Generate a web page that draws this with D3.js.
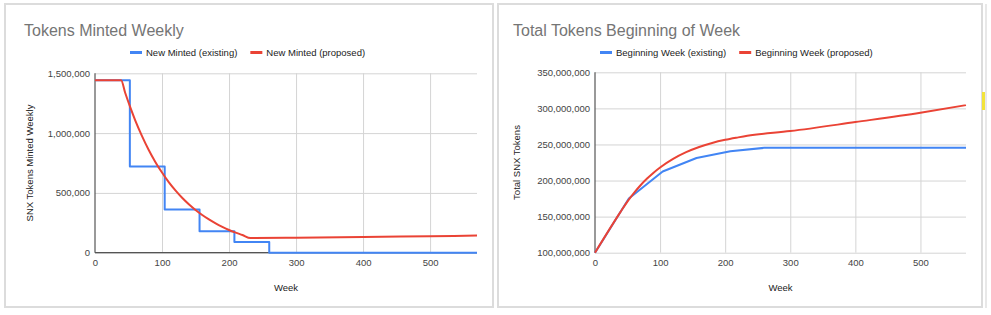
<!DOCTYPE html>
<html><head><meta charset="utf-8">
<script src="https://cdn.jsdelivr.net/npm/d3@7"></script>
<style>
body{margin:0;background:#fff;}
svg{display:block;font-family:"Liberation Sans",Arial,sans-serif;}
</style>
</head><body>
<svg id="c" width="991" height="315"></svg>
<script>
// ---------- data ----------
const weekTicks = [0, 100, 200, 300, 400, 500];

// Left chart: Tokens Minted Weekly
const mintedTicks = [0, 500000, 1000000, 1500000];
const mintedExistingWeeks  = [0, 52, 104, 156, 208, 260, 570];
const mintedExistingValues = [1442308, 721154, 360577, 180288, 90144, 0, 0];
const mintedProposedWeeks  = [0, 39, 45, 52, 60, 70, 80, 90, 100, 110, 120, 130, 140, 150, 160, 170, 180, 190, 200, 210, 220, 232, 300, 400, 500, 570];
const mintedProposedValues = [1442308, 1442308, 1337000, 1225000, 1107000, 977000, 861000, 759000, 670000, 590000, 521000, 459000, 405000, 357000, 315000, 278000, 245000, 216000, 190000, 168000, 148000, 122000, 125000, 131000, 138000, 143000];

// Right chart: Total Tokens Beginning of Week
const supplyTicks = [100000000, 150000000, 200000000, 250000000, 300000000, 350000000];
const supplyExistingWeeks  = [0, 52, 104, 156, 208, 260, 570];
const supplyExistingValues = [100000000, 175000000, 212500000, 231250000, 240600000, 245300000, 245300000];
const supplyProposedWeeks  = [0, 39, 50, 60, 70, 80, 90, 100, 120, 140, 160, 180, 200, 220, 234, 300, 400, 500, 570];
const supplyProposedValues = [100000000, 156250000, 171200000, 183000000, 193500000, 202700000, 210900000, 218100000, 230000000, 239300000, 246500000, 252100000, 256400000, 259800000, 262000000, 268500000, 281000000, 294000000, 304500000];

// ---------- drawing ----------
const svg = d3.select("#c");
const BLUE = "#4285f4", RED = "#ea4335";

// panel frames
svg.append("rect").attr("x", 5).attr("y", 4).attr("width", 488).attr("height", 303)
  .attr("fill", "#fff").attr("stroke", "#dcdcdc").attr("stroke-width", 2);
svg.append("rect").attr("x", 498).attr("y", 4).attr("width", 484).attr("height", 303)
  .attr("fill", "#fff").attr("stroke", "#dcdcdc").attr("stroke-width", 2);
svg.append("line").attr("x1", 986).attr("x2", 986).attr("y1", 4).attr("y2", 308)
  .attr("stroke", "#e0e0e0").attr("stroke-width", 1.5);
svg.append("rect").attr("x", 982).attr("y", 92).attr("width", 3).attr("height", 18).attr("fill", "#f2e33a");

function drawChart(cfg) {
  const g = svg.append("g");
  const x = d3.scaleLinear().domain([0, 570]).range([cfg.left, cfg.right]);
  const y = d3.scaleLinear().domain(cfg.yDomain).range([cfg.bottom, cfg.top]);

  // title
  g.append("text").attr("x", cfg.titleX).attr("y", 36).attr("font-size", 16)
    .attr("fill", "#757575").text(cfg.title);

  // legend
  let lx = cfg.legendX;
  cfg.legend.forEach(d => {
    g.append("rect").attr("x", lx).attr("y", 51).attr("width", 12).attr("height", 3).attr("fill", d.color);
    const t = g.append("text").attr("x", lx + 16).attr("y", 56).attr("font-size", 9.5)
      .attr("fill", "#222").text(d.label);
    lx += 16 + t.node().getComputedTextLength() + 13;
  });

  // horizontal gridlines
  g.append("g").attr("transform", `translate(${cfg.left},0)`)
    .call(d3.axisLeft(y).tickValues(cfg.yTicks).tickSize(-(cfg.right - cfg.left)).tickFormat(""))
    .call(a => a.select(".domain").remove())
    .call(a => a.selectAll("line").attr("stroke", "#d4d4d4"));
  // vertical gridlines
  g.append("g").attr("transform", `translate(0,${cfg.bottom})`)
    .call(d3.axisBottom(x).tickValues(weekTicks.filter(v => v > 0)).tickSize(-(cfg.bottom - cfg.top)).tickFormat(""))
    .call(a => a.select(".domain").remove())
    .call(a => a.selectAll("line").attr("stroke", "#d4d4d4"));

  // tick labels
  g.append("g").attr("transform", `translate(${cfg.left},0)`)
    .call(d3.axisLeft(y).tickValues(cfg.yTicks).tickSize(0).tickPadding(5).tickFormat(d3.format(",")))
    .call(a => a.select(".domain").remove())
    .call(a => a.selectAll("text").attr("font-size", 9.5).attr("fill", "#444").attr("font-family", null));
  g.append("g").attr("transform", `translate(0,${cfg.bottom})`)
    .call(d3.axisBottom(x).tickValues(weekTicks).tickSize(0).tickPadding(7).tickFormat(d3.format("d")))
    .call(a => a.select(".domain").remove())
    .call(a => a.selectAll("text").attr("font-size", 9.5).attr("fill", "#444").attr("font-family", null));

  // baselines
  g.append("line").attr("x1", x(0)).attr("x2", x(0)).attr("y1", cfg.top).attr("y2", cfg.bottom)
    .attr("stroke", "#555").attr("stroke-width", 1.2);
  if (cfg.zeroBaseline) {
    g.append("line").attr("x1", x(0)).attr("x2", cfg.right).attr("y1", y(0)).attr("y2", y(0))
      .attr("stroke", "#555").attr("stroke-width", 1.2);
  }

  // axis titles
  g.append("text").attr("x", (cfg.left + cfg.right) / 2).attr("y", 291).attr("text-anchor", "middle")
    .attr("font-size", 9.5).attr("fill", "#222").text("Week");
  g.append("text").attr("transform", `translate(${cfg.yTitleX},${(cfg.top + cfg.bottom) / 2}) rotate(-90)`)
    .attr("text-anchor", "middle").attr("font-size", 9.5).attr("fill", "#222").text(cfg.yTitle);

  // series
  cfg.series.forEach(s => {
    const pts = s.weeks.map((w, i) => [w, s.values[i]]);
    g.append("path").datum(pts)
      .attr("fill", "none").attr("stroke", s.color).attr("stroke-width", 2)
      .attr("stroke-linejoin", "round")
      .attr("d", d3.line().x(d => x(d[0])).y(d => y(d[1])).curve(s.curve));
  });
}

drawChart({
  title: "Tokens Minted Weekly", titleX: 24,
  legendX: 130,
  legend: [{label: "New Minted (existing)", color: BLUE}, {label: "New Minted (proposed)", color: RED}],
  left: 95, right: 477, top: 73.3, bottom: 252.7,
  yDomain: [0, 1500000], yTicks: mintedTicks, zeroBaseline: true,
  yTitle: "SNX Tokens Minted Weekly", yTitleX: 33,
  series: [
    {weeks: mintedExistingWeeks, values: mintedExistingValues, color: BLUE, curve: d3.curveStepAfter},
    {weeks: mintedProposedWeeks, values: mintedProposedValues, color: RED, curve: d3.curveMonotoneX}
  ]
});

drawChart({
  title: "Total Tokens Beginning of Week", titleX: 513,
  legendX: 600,
  legend: [{label: "Beginning Week (existing)", color: BLUE}, {label: "Beginning Week (proposed)", color: RED}],
  left: 595, right: 966, top: 72.3, bottom: 252.7,
  yDomain: [100000000, 350000000], yTicks: supplyTicks, zeroBaseline: false,
  yTitle: "Total SNX Tokens", yTitleX: 520,
  series: [
    {weeks: supplyExistingWeeks, values: supplyExistingValues, color: BLUE, curve: d3.curveLinear},
    {weeks: supplyProposedWeeks, values: supplyProposedValues, color: RED, curve: d3.curveMonotoneX}
  ]
});
</script>
</body></html>
